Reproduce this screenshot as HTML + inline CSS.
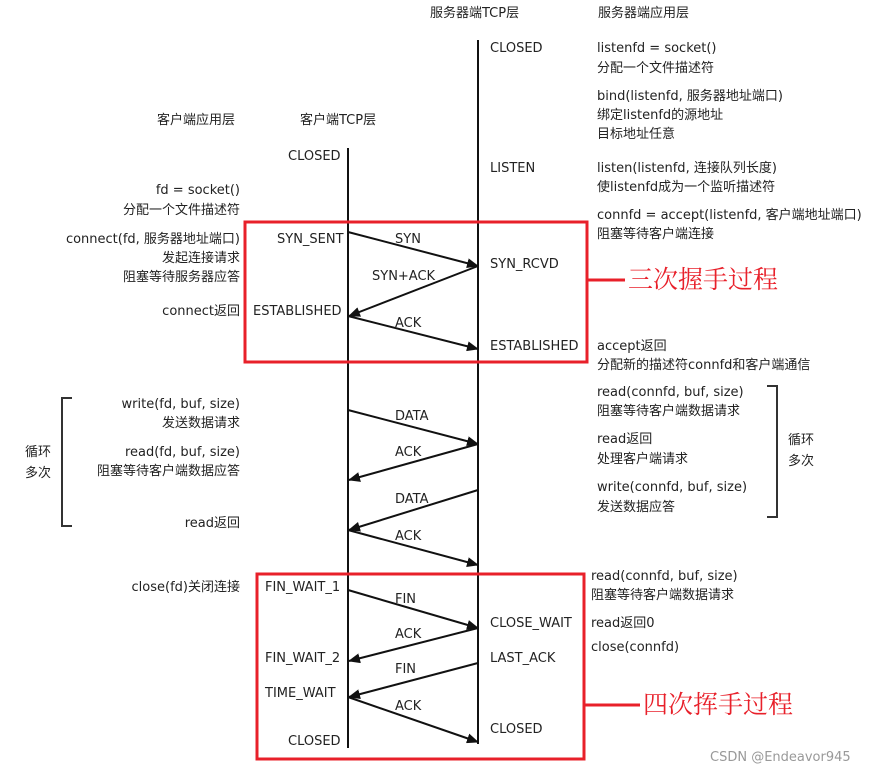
<!DOCTYPE html>
<html><head><meta charset="utf-8"><style>
body{margin:0;background:#fff}
svg text{font-family:"DejaVu Sans","Noto Sans CJK SC",sans-serif;font-size:13px;fill:#222}
</style></head><body>
<svg width="884" height="771" viewBox="0 0 884 771" xmlns="http://www.w3.org/2000/svg">
<defs><marker id="a" markerWidth="12" markerHeight="10" refX="11" refY="5" orient="auto" markerUnits="userSpaceOnUse"><path d="M0,0 L12,5 L0,10 z" fill="#111"/></marker></defs>
<g stroke="#111" stroke-width="2">
<line x1="348" y1="148" x2="348" y2="748"/>
<line x1="478" y1="40" x2="478" y2="744"/>
</g>
<g stroke="#111" stroke-width="2" marker-end="url(#a)">
<line x1="348" y1="232" x2="478" y2="266"/>
<line x1="478" y1="266" x2="349" y2="316"/>
<line x1="348" y1="316" x2="478" y2="349"/>
<line x1="348" y1="410" x2="478" y2="444"/>
<line x1="478" y1="444" x2="349" y2="480"/>
<line x1="478" y1="490" x2="349" y2="530"/>
<line x1="348" y1="530" x2="478" y2="565"/>
<line x1="348" y1="590" x2="478" y2="628"/>
<line x1="478" y1="628" x2="349" y2="661"/>
<line x1="478" y1="663" x2="349" y2="697"/>
<line x1="348" y1="697" x2="478" y2="742"/>
</g>
<g fill="none" stroke="#333" stroke-width="2">
<path d="M72,398 H62 V526 H72"/>
<path d="M767,386 H777 V517 H767"/>
</g>
<g fill="none" stroke="#e8202a" stroke-width="3">
<rect x="245" y="222" width="342" height="140"/>
<line x1="587" y1="280" x2="625" y2="280"/>
<rect x="257" y="574" width="327" height="185"/>
<line x1="584" y1="705" x2="640" y2="705"/>
</g>
<text x="628" y="288" style="font-size:25px;fill:#e8202a;font-family:'Noto Serif CJK SC',serif">三次握手过程</text>
<text x="643" y="713" style="font-size:25px;fill:#e8202a;font-family:'Noto Serif CJK SC',serif">四次挥手过程</text>
<g>
<text x="430" y="17">服务器端TCP层</text>
<text x="598" y="17">服务器端应用层</text>
<text x="157" y="124">客户端应用层</text>
<text x="300" y="124">客户端TCP层</text>
<text x="490" y="52">CLOSED</text>
<text x="597" y="52">listenfd = socket()</text>
<text x="597" y="72">分配一个文件描述符</text>
<text x="597" y="100">bind(listenfd, 服务器地址端口)</text>
<text x="597" y="119">绑定listenfd的源地址</text>
<text x="597" y="138">目标地址任意</text>
<text x="288" y="160">CLOSED</text>
<text x="490" y="172">LISTEN</text>
<text x="597" y="172">listen(listenfd, 连接队列长度)</text>
<text x="597" y="191">使listenfd成为一个监听描述符</text>
<text x="240" y="194" text-anchor="end">fd = socket()</text>
<text x="240" y="214" text-anchor="end">分配一个文件描述符</text>
<text x="597" y="219">connfd = accept(listenfd, 客户端地址端口)</text>
<text x="597" y="238">阻塞等待客户端连接</text>
<text x="240" y="243" text-anchor="end">connect(fd, 服务器地址端口)</text>
<text x="240" y="262" text-anchor="end">发起连接请求</text>
<text x="240" y="281" text-anchor="end">阻塞等待服务器应答</text>
<text x="277" y="243">SYN_SENT</text>
<text x="395" y="243">SYN</text>
<text x="490" y="268">SYN_RCVD</text>
<text x="372" y="280">SYN+ACK</text>
<text x="240" y="315" text-anchor="end">connect返回</text>
<text x="253" y="315">ESTABLISHED</text>
<text x="395" y="327">ACK</text>
<text x="490" y="350">ESTABLISHED</text>
<text x="597" y="350">accept返回</text>
<text x="597" y="369">分配新的描述符connfd和客户端通信</text>
<text x="597" y="396">read(connfd, buf, size)</text>
<text x="597" y="415">阻塞等待客户端数据请求</text>
<text x="240" y="408" text-anchor="end">write(fd, buf, size)</text>
<text x="240" y="427" text-anchor="end">发送数据请求</text>
<text x="395" y="420">DATA</text>
<text x="597" y="443">read返回</text>
<text x="597" y="463">处理客户端请求</text>
<text x="788" y="444">循环</text>
<text x="788" y="465">多次</text>
<text x="25" y="456">循环</text>
<text x="25" y="477">多次</text>
<text x="240" y="456" text-anchor="end">read(fd, buf, size)</text>
<text x="240" y="475" text-anchor="end">阻塞等待客户端数据应答</text>
<text x="395" y="456">ACK</text>
<text x="597" y="491">write(connfd, buf, size)</text>
<text x="597" y="511">发送数据应答</text>
<text x="395" y="503">DATA</text>
<text x="240" y="527" text-anchor="end">read返回</text>
<text x="395" y="540">ACK</text>
<text x="240" y="591" text-anchor="end">close(fd)关闭连接</text>
<text x="265" y="591">FIN_WAIT_1</text>
<text x="591" y="580">read(connfd, buf, size)</text>
<text x="591" y="599">阻塞等待客户端数据请求</text>
<text x="395" y="603">FIN</text>
<text x="490" y="627">CLOSE_WAIT</text>
<text x="591" y="627">read返回0</text>
<text x="395" y="638">ACK</text>
<text x="591" y="651">close(connfd)</text>
<text x="265" y="662">FIN_WAIT_2</text>
<text x="490" y="662">LAST_ACK</text>
<text x="395" y="673">FIN</text>
<text x="265" y="697">TIME_WAIT</text>
<text x="395" y="710">ACK</text>
<text x="490" y="733">CLOSED</text>
<text x="288" y="745">CLOSED</text>
<text x="710" y="761" style="fill:#999;font-size:13px">CSDN @Endeavor945</text>
</g>
</svg>
</body></html>
